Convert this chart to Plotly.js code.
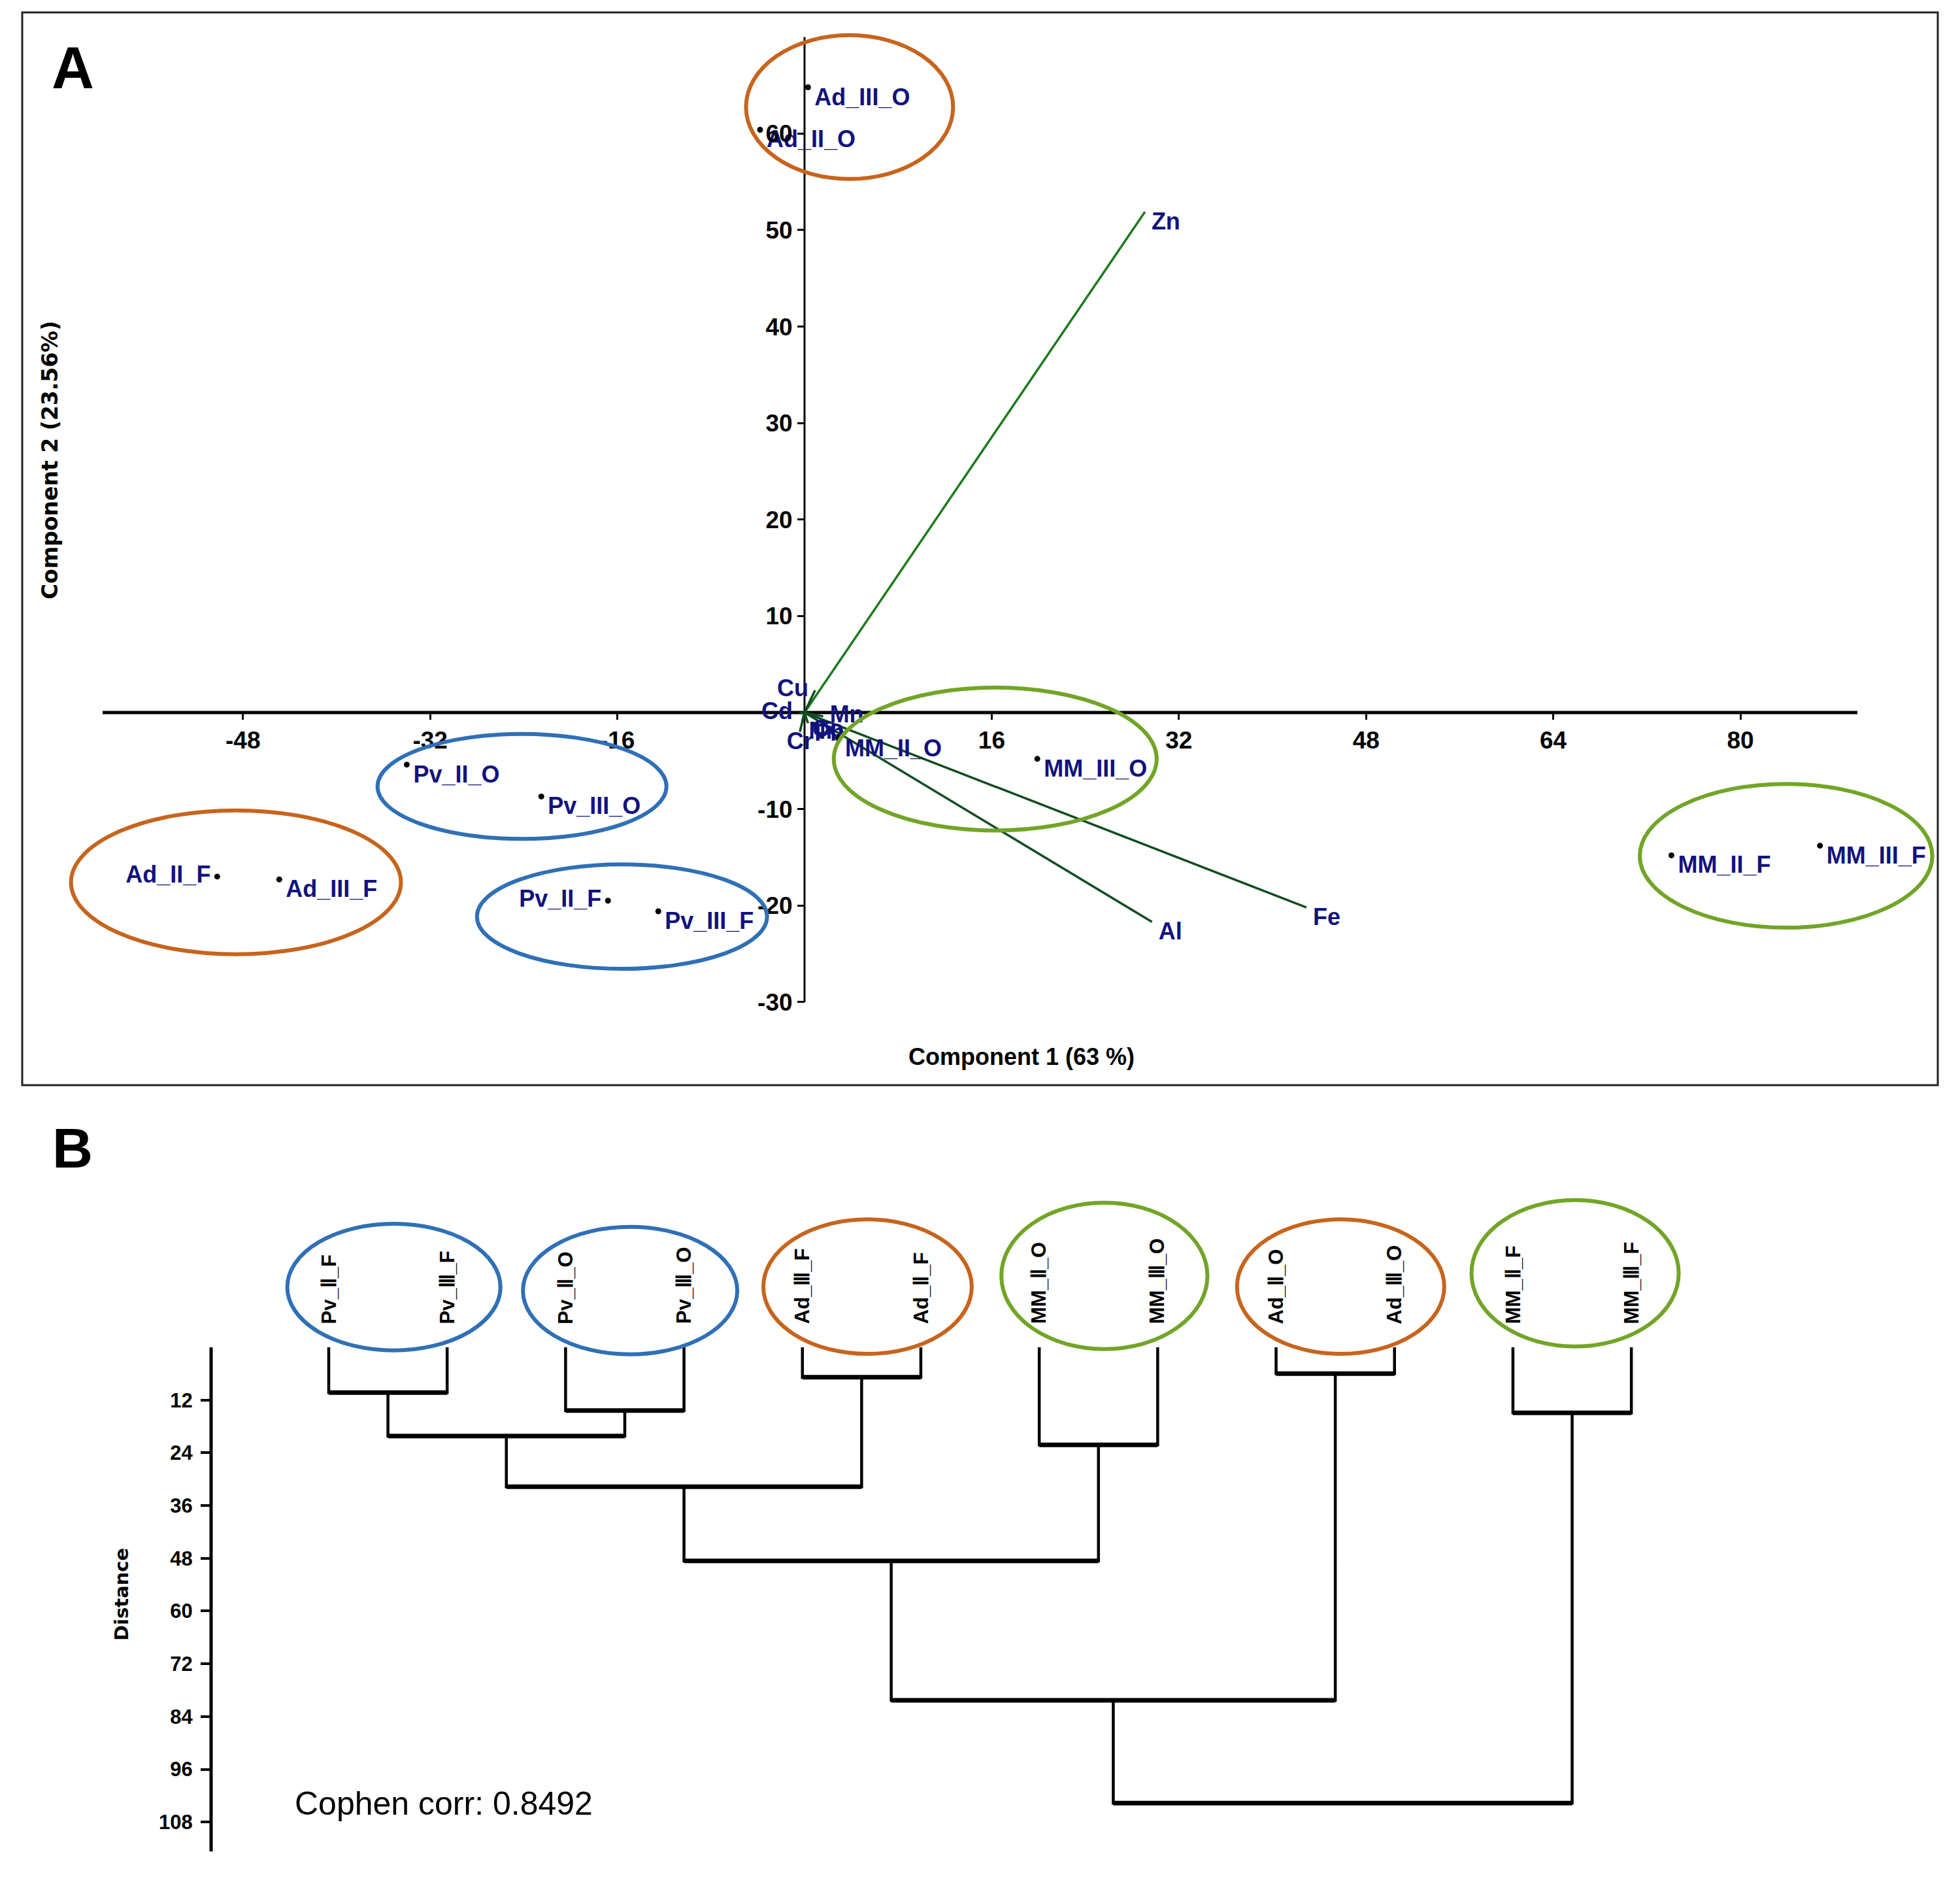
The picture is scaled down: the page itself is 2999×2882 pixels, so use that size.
<!DOCTYPE html>
<html>
<head>
<meta charset="utf-8">
<script src="https://cdn.plot.ly/plotly-3.0.1.min.js"></script>
<style>html,body{margin:0;padding:0;background:#fff;}</style>
</head>
<body>
<div id="chart" style="width:2999px;height:2882px;"></div>
<script>
// ---------------- Panel A : PCA biplot data ----------------
const sampleNames = ['Ad_III_O','Ad_II_O','Pv_II_O','Pv_III_O','Ad_II_F','Ad_III_F','Pv_II_F','Pv_III_F','MM_II_O','MM_III_O','MM_II_F','MM_III_F'];
const pc1 = [0.3, -3.8, -34.0, -22.5, -50.2, -44.9, -16.8, -12.5, 2.9, 19.9, 74.1, 86.8];
const pc2 = [64.8, 60.4, -5.4, -8.7, -17.0, -17.3, -19.5, -20.6, -2.7, -4.8, -14.8, -13.8];
const labelsOnLeft = ['Ad_II_F','Pv_II_F'];

const elementNames = ['Zn','Fe','Al','Cu','Cd','Mn','Cr','Ni','Pb','Co'];
const loadPC1 = [29.1, 42.9, 29.7, 0.9, -0.45, 1.6, -0.4, -0.2, 0.3, 0.1];
const loadPC2 = [51.9, -20.2, -21.7, 2.3, -0.07, -0.4, -2.0, -0.9, -1.1, -0.7];
const elementLabelPos = ['bottom right','bottom right','bottom right','middle left','middle left','middle right','bottom center','bottom right','bottom right','bottom right'];

const xTickVals = [-48, -32, -16, 16, 32, 48, 64, 80];
const yTickVals = [-30, -20, -10, 10, 20, 30, 40, 50, 60];
const xAxisExtent = [-60, 90];
const yAxisExtent = [-30, 70];

// group ellipses in panel A (component units)
const groupA = ['Ad_O','Pv_O','Ad_F','Pv_F','MM_O','MM_F'];
const groupAx0 = [-5.0, -36.5, -62.7, -28.0, 2.5, 71.4];
const groupAx1 = [12.7, -11.8, -34.5, -3.2, 30.1, 96.4];
const groupAy0 = [55.3, -13.1, -25.05, -26.56, -12.23, -22.3];
const groupAy1 = [70.2, -2.22, -10.14, -15.74, 2.59, -7.4];

// ---------------- Panel B : dendrogram data ----------------
const leafNames = ['Pv_\u2161_F','Pv_\u2162_F','Pv_\u2161_O','Pv_\u2162_O','Ad_\u2162_F','Ad_\u2161_F','MM_\u2161_O','MM_\u2162_O','Ad_\u2161_O','Ad_\u2162_O','MM_\u2161_F','MM_\u2162_F'];
const mergeLeft  = [0, 2, 4, 6, 8, 10, 12, 18, 19, 20, 21];
const mergeRight = [1, 3, 5, 7, 9, 11, 13, 14, 15, 16, 17];
const mergeHeight = [10.3, 14.4, 6.8, 22.2, 6.0, 14.9, 20.2, 31.7, 48.6, 80.3, 103.7];
const distTickVals = [12, 24, 36, 48, 60, 72, 84, 96, 108];
const distAxisMax = 114.7;
const cophenCorr = 0.8492;

// group ellipses in panel B (leaf index / distance units)
const groupB = ['Pv_F','Pv_O','Ad_F','MM_O','Ad_O','MM_F'];
const groupBx0 = [-0.35, 1.64, 3.67, 5.68, 7.67, 9.65];
const groupBx1 = [1.45, 3.45, 5.43, 7.42, 9.42, 11.40];
const groupBy0 = [-28.1, -27.4, -29.1, -32.9, -29.1, -33.5];
const groupBy1 = [0.7, 1.6, 1.5, 0.4, 1.5, -0.2];

// ---------------- styles ----------------
const W = 2999, H = 2882;
const ORANGE = '#c7641d', BLUE = '#2f70b6', GREEN = '#72a527';
function groupColor(g){ return g.startsWith('Ad') ? ORANGE : g.startsWith('Pv') ? BLUE : GREEN; }
const LAB = 'Liberation Sans, Arial, sans-serif';
const NAVY = '#12127e';

// panel A geometry
const aDomX = [34/W, 2965/W];
const aDomY = [1 - 1660/H, 1 - 19/H];
const aRangeX = [-66.87, 96.87];
const aRangeY = [-38.62, 72.56];
const xAxisPos = aDomY[0] + (0 - aRangeY[0]) / (aRangeY[1] - aRangeY[0]) * (aDomY[1] - aDomY[0]);
const yAxisPos = aDomX[0] + (0 - aRangeX[0]) / (aRangeX[1] - aRangeX[0]) * (aDomX[1] - aDomX[0]);

// panel B geometry
const bDomX = [323/W, 2800/W];
const bDomY = [1 - 2860/H, 1 - 1800/H];
const bRangeX = [-0.9934, 12.677];
const bRangeY = [118.83, -38.82];

const traces = [];

// loading lines
elementNames.forEach((el, i) => {
  traces.push({
    x: [0, loadPC1[i]], y: [0, loadPC2[i]], mode: 'lines', xaxis: 'x', yaxis: 'y',
    line: {color: el === 'Zn' ? '#1d7a1d' : '#0f4c1f', width: 3.5}, hoverinfo: 'skip', showlegend: false
  });
});
// loading labels
traces.push({
  x: loadPC1, y: loadPC2, mode: 'text', xaxis: 'x', yaxis: 'y',
  text: elementNames.map((e, i) => elementLabelPos[i].indexOf('left') >= 0 ? e + '\u00a0' : (elementLabelPos[i].indexOf('right') >= 0 ? '\u00a0' + e : e)),
  textposition: elementLabelPos,
  textfont: {family: LAB, size: 36, color: NAVY, weight: 'bold'},
  cliponaxis: false, hoverinfo: 'skip', showlegend: false
});
// sample points
traces.push({
  x: pc1, y: pc2, mode: 'markers', xaxis: 'x', yaxis: 'y',
  marker: {color: '#000', size: 9}, hoverinfo: 'skip', showlegend: false, cliponaxis: false
});
// sample labels
traces.push({
  x: pc1, y: pc2, mode: 'text', xaxis: 'x', yaxis: 'y',
  text: sampleNames.map(n => labelsOnLeft.includes(n) ? n + '\u00a0' : '\u00a0' + n),
  textposition: sampleNames.map(n => labelsOnLeft.includes(n) ? 'middle left' : 'bottom right'),
  textfont: {family: LAB, size: 36, color: NAVY, weight: 'bold'},
  cliponaxis: false, hoverinfo: 'skip', showlegend: false
});

// dendrogram
const nodeX = leafNames.map((_, i) => i);
const nodeH = leafNames.map(() => 0);
const linkX = [], linkY = [], barX = [], barY = [];
mergeLeft.forEach((l, k) => {
  const r = mergeRight[k], h = mergeHeight[k];
  const xl = nodeX[l], xr = nodeX[r];
  linkX.push(xl, xl, xr, xr, null);
  linkY.push(nodeH[l], h, h, nodeH[r], null);
  barX.push(xl, xr, null);
  barY.push(h, h, null);
  nodeX.push((xl + xr) / 2);
  nodeH.push(h);
});
traces.push({
  x: linkX, y: linkY, mode: 'lines', xaxis: 'x2', yaxis: 'y2',
  line: {color: '#000', width: 4.5}, hoverinfo: 'skip', showlegend: false
});
traces.push({
  x: barX, y: barY, mode: 'lines', xaxis: 'x2', yaxis: 'y2',
  line: {color: '#000', width: 7}, hoverinfo: 'skip', showlegend: false
});

// shapes
const shapes = [];
shapes.push({type: 'rect', xref: 'paper', yref: 'paper', x0: aDomX[0], x1: aDomX[1], y0: aDomY[0], y1: aDomY[1],
  line: {color: '#222', width: 3}, fillcolor: 'rgba(0,0,0,0)', layer: 'below'});
shapes.push({type: 'line', xref: 'x', yref: 'y', x0: xAxisExtent[0], x1: xAxisExtent[1], y0: 0, y1: 0,
  line: {color: '#000', width: 5}, layer: 'below'});
shapes.push({type: 'line', xref: 'x', yref: 'y', x0: 0, x1: 0, y0: yAxisExtent[0], y1: yAxisExtent[1],
  line: {color: '#000', width: 3}, layer: 'below'});
shapes.push({type: 'line', xref: 'x2 domain', yref: 'y2', x0: 0, x1: 0, y0: 0, y1: distAxisMax,
  line: {color: '#000', width: 5}});
groupA.forEach((g, i) => shapes.push({type: 'circle', xref: 'x', yref: 'y',
  x0: groupAx0[i], x1: groupAx1[i], y0: groupAy0[i], y1: groupAy1[i],
  line: {color: groupColor(g), width: 6}, layer: 'above'}));
groupB.forEach((g, i) => shapes.push({type: 'circle', xref: 'x2', yref: 'y2',
  x0: groupBx0[i], x1: groupBx1[i], y0: groupBy0[i], y1: groupBy1[i],
  line: {color: groupColor(g), width: 6}, layer: 'above'}));

// annotations
function pa(text, px, py, font, extra) {
  return Object.assign({text: text, xref: 'paper', yref: 'paper', x: px / W, y: 1 - py / H,
    xanchor: 'center', yanchor: 'middle', showarrow: false, font: font}, extra || {});
}
const annotations = [
  pa('A', 111, 104, {family: LAB, size: 90, color: '#000', weight: 'bold'}),
  pa('B', 111, 1756, {family: LAB, size: 86, color: '#000', weight: 'bold'}),
  pa('Component 1 (63 %)', 1563, 1616, {family: LAB, size: 36, color: '#000', weight: 'bold'}),
  pa('Component 2 (23.56%)', 77, 704, {family: 'DejaVu Sans, sans-serif', size: 33, color: '#000', weight: 'bold'}, {textangle: -90}),
  pa('Distance', 186, 2439, {family: 'DejaVu Sans, sans-serif', size: 29, color: '#000', weight: 'bold'}, {textangle: -90}),
  pa('Cophen corr: ' + cophenCorr.toFixed(4), 679, 2759, {family: LAB, size: 50, color: '#000'})
];
leafNames.forEach((n, i) => annotations.push({
  text: n, xref: 'x2', yref: 'y2', x: i, y: -5, xanchor: 'center', yanchor: 'bottom', textangle: -90,
  showarrow: false, font: {family: LAB, size: 31, color: '#000', weight: 'bold'}
}));

const tickFont = {family: LAB, size: 37, color: '#000', weight: 'bold'};
const layout = {
  width: W, height: H,
  margin: {l: 0, r: 0, t: 0, b: 0},
  paper_bgcolor: '#fff', plot_bgcolor: 'rgba(0,0,0,0)',
  showlegend: false,
  xaxis: {domain: aDomX, range: aRangeX, anchor: 'free', position: xAxisPos,
    showgrid: false, zeroline: false, showline: false,
    tickmode: 'array', tickvals: xTickVals, ticktext: xTickVals.map(String),
    ticks: 'outside', ticklen: 10, tickwidth: 3, tickcolor: '#000', ticklabelstandoff: 0,
    tickfont: tickFont},
  yaxis: {domain: aDomY, range: aRangeY, anchor: 'free', position: yAxisPos,
    showgrid: false, zeroline: false, showline: false,
    tickmode: 'array', tickvals: yTickVals, ticktext: yTickVals.map(String),
    ticks: 'outside', ticklen: 11, tickwidth: 3, tickcolor: '#000',
    tickfont: tickFont},
  xaxis2: {domain: bDomX, range: bRangeX, anchor: 'y2', visible: false, showgrid: false, zeroline: false},
  yaxis2: {domain: bDomY, range: bRangeY, anchor: 'x2',
    showgrid: false, zeroline: false, showline: false,
    tickmode: 'array', tickvals: distTickVals, ticktext: distTickVals.map(String),
    ticks: 'outside', ticklen: 15, tickwidth: 4, tickcolor: '#000', ticklabelstandoff: 6,
    tickfont: {family: LAB, size: 31, color: '#000', weight: 'bold'}},
  shapes: shapes,
  annotations: annotations
};

Plotly.newPlot('chart', traces, layout, {displayModeBar: false, staticPlot: true});
</script>
</body>
</html>
